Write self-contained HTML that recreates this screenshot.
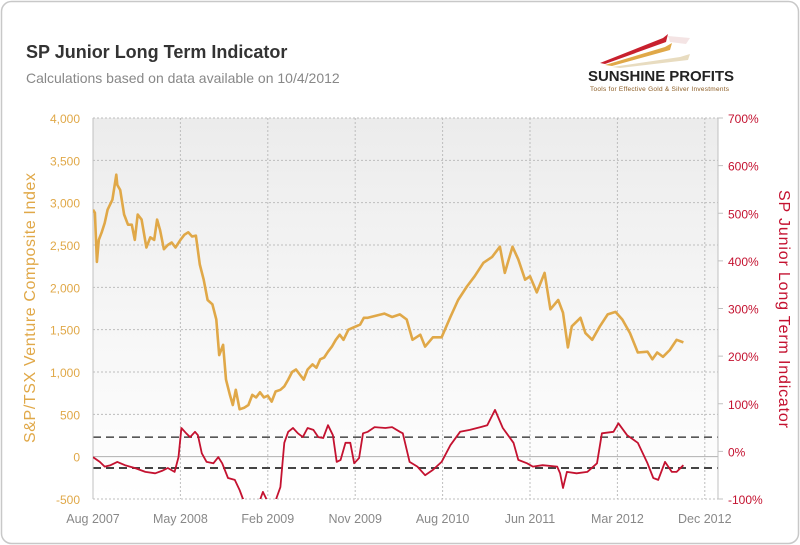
<!DOCTYPE html>
<html><head><meta charset="utf-8"><style>
body{margin:0;background:#fff;}
#wrap{position:relative;width:800px;height:545px;overflow:hidden;background:#fff;}
svg{position:absolute;left:0;top:0;}
text{font-family:"Liberation Sans",sans-serif;}
</style></head><body>
<div id="wrap">
<svg id="chart" width="800" height="545" viewBox="0 0 800 545">
<defs>
<linearGradient id="bg" x1="0" y1="0" x2="0" y2="1">
<stop offset="0" stop-color="#ececec"/><stop offset="0.75" stop-color="#fafafa"/><stop offset="1" stop-color="#ffffff"/>
</linearGradient>
<clipPath id="plotclip"><rect x="93" y="118" width="625" height="381"/></clipPath>
</defs>
<rect x="1.5" y="1.5" width="797" height="542" rx="10" fill="#fff" stroke="#c8c8c8" stroke-width="1.5"/>
<text x="26" y="58" font-size="18" font-weight="bold" fill="#333">SP Junior Long Term Indicator</text>
<text x="26" y="83" font-size="14" fill="#888">Calculations based on data available on  10/4/2012</text>
<g>
<polygon points="600,63 663,38 668,34 666,42 605,64" fill="#c8202e"/>
<polygon points="605,65 665,47 672,43 670,50 612,66" fill="#e0a848"/>
<polygon points="612,67 680,57 690,54 688,60 620,68" fill="#e8dcc0"/>
<polygon points="668,36 690,38 686,44 670,42" fill="#f0d8d8" opacity="0.7"/>
<text x="588" y="81" font-size="15" font-weight="bold" fill="#222" textLength="146">SUNSHINE PROFITS</text>
<text x="590" y="91" font-size="6.5" fill="#8a5a20" textLength="139">Tools for Effective Gold &amp; Silver Investments</text>
</g>
<rect x="93" y="118" width="625" height="381" fill="url(#bg)"/>
<g id="grid"></g>
<g id="axes"></g>
<g id="series" clip-path="url(#plotclip)"></g>
<text transform="translate(35,308) rotate(-90)" text-anchor="middle" font-size="16" textLength="270" lengthAdjust="spacing" fill="#e0a848">S&amp;P/TSX Venture Composite Index</text>
<text transform="translate(779,309) rotate(90)" text-anchor="middle" font-size="16" textLength="238" lengthAdjust="spacing" fill="#c41230">SP Junior Long Term Indicator</text>
</svg>
</div>
<script>
const xTickLabels=["Aug 2007","May 2008","Feb 2009","Nov 2009","Aug 2010","Jun 2011","Mar 2012","Dec 2012"];
const xTickMonths=[0,9,18,27,36,45,54,63];
const leftTicks=[-500,0,500,1000,1500,2000,2500,3000,3500,4000];
const rightTicks=[-100,0,100,200,300,400,500,600,700];
const thresholds=[30,-35];
const goldMonths=[0,0.2,0.4,0.6,0.9,1.2,1.5,2.0,2.4,2.5,2.8,3.2,3.6,4.0,4.3,4.6,5.0,5.5,5.9,6.3,6.6,6.9,7.3,7.7,8.1,8.5,9.0,9.4,9.8,10.2,10.6,11.0,11.4,11.8,12.3,12.7,13.0,13.4,13.7,14.1,14.4,14.7,15.1,15.6,16.0,16.4,16.8,17.2,17.6,18.0,18.4,18.8,19.3,19.7,20.1,20.5,20.9,21.3,21.7,22.1,22.6,23.0,23.4,23.8,24.2,24.6,25.0,25.4,25.8,26.3,26.7,27.1,27.5,27.9,28.3,30.0,30.8,31.6,32.3,32.9,33.7,34.2,35.0,35.9,36.8,37.6,38.5,39.3,40.2,41.1,41.9,42.4,43.2,43.8,44.5,45.0,45.7,46.5,47.1,47.9,48.4,48.9,49.3,50.2,50.7,51.4,52.2,53.0,53.8,54.5,55.3,56.1,57.1,57.6,58.1,58.7,59.4,60.1,60.8];
const goldValues=[2917,2880,2300,2560,2650,2760,2917,3035,3330,3210,3150,2860,2740,2740,2560,2860,2800,2470,2590,2560,2800,2680,2450,2500,2530,2470,2560,2620,2650,2600,2610,2270,2090,1850,1800,1620,1200,1320,910,730,610,790,560,580,610,730,700,760,700,720,650,770,790,830,910,1000,1030,970,910,1030,1090,1050,1150,1170,1240,1300,1380,1440,1380,1500,1520,1540,1560,1640,1640,1690,1650,1680,1620,1380,1440,1300,1410,1410,1650,1850,2010,2130,2290,2360,2480,2170,2480,2330,2090,2130,1940,2170,1740,1850,1700,1290,1540,1640,1460,1380,1540,1680,1710,1620,1460,1230,1240,1150,1230,1180,1260,1380,1350];
const indMonths=[0,0.7,1.2,1.8,2.5,3.3,4.3,5.4,6.4,7.1,7.7,8.4,8.8,9.1,9.6,10.0,10.5,10.8,11.2,11.7,12.4,12.9,13.3,13.9,14.6,15.1,15.4,15.7,16.7,17.5,17.8,18.4,18.9,19.3,19.7,20.1,20.6,21.1,21.6,22.1,22.7,23.2,23.7,24.2,24.7,25.1,25.5,26.0,26.5,26.9,27.4,27.8,28.3,29.0,30.1,30.8,31.6,31.9,32.6,33.4,34.2,35.0,35.9,36.8,37.8,38.8,39.9,40.6,41.4,42.2,43.3,43.8,44.7,45.3,46.3,47.8,48.1,48.4,48.8,49.8,50.9,51.9,52.4,53.6,54.1,55.0,56.1,57.1,57.7,58.2,58.9,59.6,60.1,60.8];
const indValues=[-12,-22,-32,-29,-22,-29,-35,-43,-46,-41,-35,-43,-12,49,38,30,41,34,-4,-22,-25,-12,-25,-56,-60,-81,-98,-110,-130,-85,-98,-130,-98,-75,18,41,49,38,30,49,45,30,28,55,34,-22,-18,18,18,-25,-14,38,41,51,49,51,41,38,-22,-32,-50,-39,-22,13,41,45,51,55,87,49,18,-18,-25,-32,-29,-32,-46,-77,-43,-46,-43,-25,38,41,59,34,18,-25,-56,-60,-22,-43,-43,-29];

const NS="http://www.w3.org/2000/svg";
const PL=93,PR=718,PT=118,PB=499;
const xScale=m=>PL+m*(87.4/9);
const yLeft=v=>PB-(v+500)/4500*(PB-PT);
const yRight=v=>PB-(v+100)/800*(PB-PT);
function mk(tag,attrs,parent){const e=document.createElementNS(NS,tag);for(const k in attrs)e.setAttribute(k,attrs[k]);parent.appendChild(e);return e;}
const grid=document.getElementById('grid'),axes=document.getElementById('axes'),series=document.getElementById('series');

leftTicks.forEach((t,i)=>{
  const y=yLeft(t);
  if(t!==0){const g=mk('line',{x1:PL,x2:PR,y1:y,y2:y,stroke:'#bdbdbd','stroke-dasharray':'2,2','stroke-width':1},grid);
  
  }
  const lb=mk('text',{x:80,y:y+5,'text-anchor':'end','font-size':12,fill:'#e0a848'},axes);
  lb.textContent=t.toLocaleString('en-US');
  
  
});
const zl=mk('line',{x1:PL,x2:PR,y1:yLeft(0),y2:yLeft(0),stroke:'#b0b0b0','stroke-width':1},grid);


xTickMonths.forEach((m,i)=>{
  const x=xScale(m);
  if(i>0){const g=mk('line',{x1:x,x2:x,y1:PT,y2:PB,stroke:'#bdbdbd','stroke-dasharray':'2,2','stroke-width':1},grid);
  
  }
  const lb=mk('text',{x:x,y:523,'text-anchor':'middle','font-size':12.5,fill:'#888'},axes);
  lb.textContent=xTickLabels[i];
  
  
});
const la=mk('line',{x1:PL,x2:PL,y1:PT,y2:PB,stroke:'#c0c0c0','stroke-width':1},axes);


const ra=mk('line',{x1:PR,x2:PR,y1:PT,y2:PB,stroke:'#c0c0c0','stroke-width':1},axes);


rightTicks.forEach(t=>{
  const y=yRight(t);
  const tk=mk('line',{x1:PR,x2:PR+5,y1:y,y2:y,stroke:'#c0c0c0','stroke-width':1},axes);
  
  
  const lb=mk('text',{x:728,y:y+5,'font-size':12,fill:'#c41230'},axes);
  lb.textContent=t+'%';
  
  
});
thresholds.forEach((t,i)=>{
  const y=yRight(t);
  const l=mk('line',{x1:PL,x2:PR,y1:y,y2:y,stroke:i==0?'#222':'#444','stroke-width':i==0?1.3:2,'stroke-dasharray':'8,5'},grid);
  
  
});
const gp=mk('path',{d:goldMonths.map((m,i)=>(i?'L':'M')+xScale(m).toFixed(1)+','+yLeft(goldValues[i]).toFixed(1)).join(''),fill:'none',stroke:'#e0a848','stroke-width':2.6,'stroke-linejoin':'round'},series);


const rp=mk('path',{d:indMonths.map((m,i)=>(i?'L':'M')+xScale(m).toFixed(1)+','+yRight(indValues[i]).toFixed(1)).join(''),fill:'none',stroke:'#c41230','stroke-width':1.8,'stroke-linejoin':'round'},series);


</script>
</body></html>
